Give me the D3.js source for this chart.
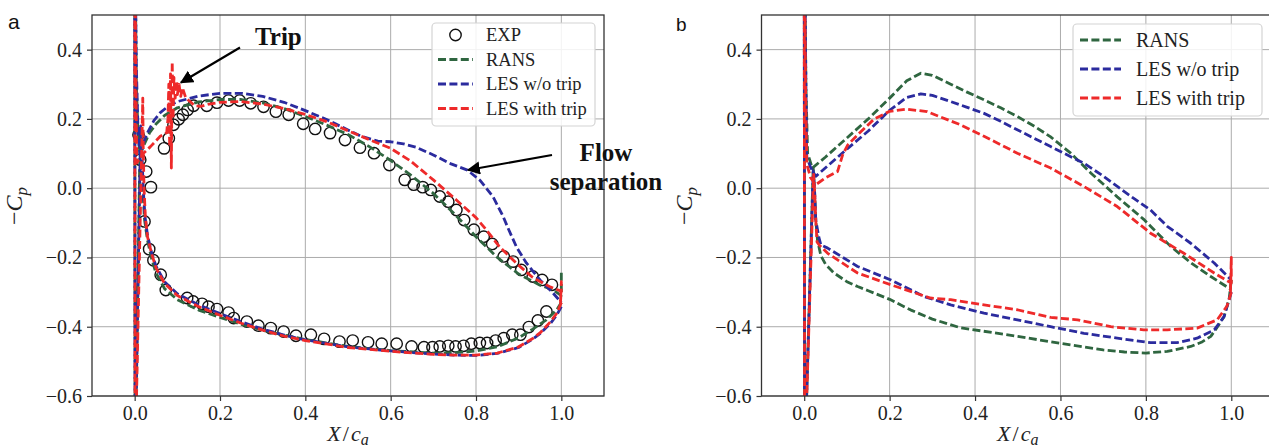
<!DOCTYPE html>
<html><head><meta charset="utf-8">
<script src="https://cdn.jsdelivr.net/npm/d3@7"></script>
<style>body{margin:0;background:#fff}svg{display:block}</style>
</head><body>
<svg id="chart" width="1269" height="448"></svg>
<script>
// ---- data: x/c_a and -Cp pairs ----
const xTicks = [0.0, 0.2, 0.4, 0.6, 0.8, 1.0];
const yTicks = [-0.6, -0.4, -0.2, 0.0, 0.2, 0.4];
const seriesNamesA = ["EXP", "RANS", "LES w/o trip", "LES with trip"];
const seriesNamesB = ["RANS", "LES w/o trip", "LES with trip"];

// experiment (panel a), suction side then pressure side
const expA = [
  [0.009,0.154],[0.013,0.082],[0.027,0.048],[0.038,0.003],[0.069,0.115],[0.080,0.144],[0.091,0.183],
  [0.103,0.199],[0.113,0.212],[0.124,0.226],[0.138,0.238],[0.169,0.238],[0.193,0.247],[0.220,0.253],
  [0.246,0.253],[0.272,0.245],[0.302,0.235],[0.331,0.221],[0.361,0.212],[0.395,0.186],[0.423,0.171],
  [0.458,0.159],[0.493,0.139],[0.528,0.117],[0.561,0.101],[0.597,0.067],[0.633,0.024],[0.654,0.010],
  [0.675,0.003],[0.694,-0.005],[0.715,-0.024],[0.735,-0.039],[0.754,-0.063],[0.772,-0.092],[0.795,-0.120],
  [0.818,-0.140],[0.838,-0.161],[0.865,-0.197],[0.887,-0.212],[0.906,-0.236],[0.933,-0.255],[0.955,-0.265],
  [0.978,-0.279],
  [0.023,-0.096],[0.034,-0.176],[0.044,-0.208],[0.061,-0.250],[0.073,-0.294],[0.123,-0.317],[0.137,-0.327],
  [0.158,-0.334],[0.173,-0.342],[0.193,-0.349],[0.220,-0.359],[0.232,-0.375],[0.263,-0.385],[0.290,-0.397],
  [0.319,-0.404],[0.349,-0.414],[0.378,-0.426],[0.413,-0.423],[0.444,-0.435],[0.480,-0.443],[0.511,-0.440],
  [0.547,-0.445],[0.579,-0.449],[0.614,-0.449],[0.649,-0.457],[0.678,-0.459],[0.698,-0.459],[0.715,-0.457],
  [0.735,-0.455],[0.752,-0.457],[0.771,-0.455],[0.789,-0.449],[0.809,-0.447],[0.826,-0.447],[0.846,-0.440],
  [0.865,-0.433],[0.885,-0.423],[0.904,-0.423],[0.924,-0.401],[0.945,-0.382],[0.965,-0.356]
];

// panel a simulations: pressure side TE -> LE -> suction side -> TE
const ransA = [
  [1.0,-0.33],[0.99,-0.35],[0.965,-0.38],[0.933,-0.407],[0.9,-0.432],[0.85,-0.458],[0.8,-0.47],[0.75,-0.475],
  [0.7,-0.476],[0.6,-0.469],[0.5,-0.457],[0.4,-0.437],[0.35,-0.424],[0.3,-0.41],[0.25,-0.393],[0.2,-0.373],
  [0.15,-0.352],[0.1,-0.322],[0.07,-0.29],[0.05,-0.245],[0.04,-0.205],[0.03,-0.15],[0.023,-0.09],[0.019,0.0],
  [0.016,0.1],[0.013,0.17],[0.001,-0.8],[0.0,0.8],[0.004,0.3],[0.008,0.15],[0.013,0.095],[0.02,0.12],
  [0.035,0.16],[0.05,0.185],[0.07,0.21],[0.1,0.232],[0.15,0.249],[0.2,0.256],[0.25,0.256],[0.3,0.246],
  [0.35,0.23],[0.4,0.207],[0.45,0.182],[0.5,0.155],[0.55,0.12],[0.6,0.08],[0.65,0.035],[0.7,-0.015],
  [0.75,-0.075],[0.8,-0.14],[0.85,-0.2],[0.9,-0.248],[0.95,-0.28],[0.98,-0.293],[1.0,-0.31],[1.0,-0.24]
];
const lesNoTripA = [
  [1.0,-0.342],[0.99,-0.365],[0.975,-0.39],[0.95,-0.42],[0.933,-0.436],[0.9,-0.46],[0.85,-0.477],[0.8,-0.483],
  [0.75,-0.482],[0.7,-0.479],[0.6,-0.47],[0.5,-0.458],[0.4,-0.438],[0.35,-0.424],[0.3,-0.407],[0.25,-0.386],
  [0.2,-0.362],[0.15,-0.337],[0.1,-0.305],[0.07,-0.27],[0.05,-0.225],[0.04,-0.188],[0.03,-0.135],[0.024,-0.08],
  [0.02,0.0],[0.017,0.1],[0.014,0.18],[0.001,-0.8],[0.0,0.8],[0.004,0.35],[0.008,0.16],[0.013,0.088],
  [0.02,0.13],[0.03,0.16],[0.045,0.195],[0.06,0.218],[0.08,0.238],[0.1,0.25],[0.15,0.266],[0.2,0.274],
  [0.25,0.274],[0.3,0.265],[0.35,0.248],[0.4,0.224],[0.45,0.198],[0.5,0.168],[0.53,0.15],[0.57,0.136],
  [0.6,0.134],[0.63,0.128],[0.66,0.118],[0.7,0.096],[0.74,0.071],[0.78,0.052],[0.81,0.022],[0.84,-0.025],
  [0.863,-0.08],[0.875,-0.115],[0.895,-0.17],[0.918,-0.216],[0.95,-0.265],[0.98,-0.302],[1.0,-0.33]
];
const lesTripA = [
  [1.0,-0.33],[0.99,-0.36],[0.975,-0.385],[0.95,-0.418],[0.933,-0.434],[0.9,-0.458],[0.85,-0.476],[0.8,-0.482],
  [0.75,-0.482],[0.7,-0.48],[0.6,-0.471],[0.5,-0.46],[0.4,-0.44],[0.35,-0.427],[0.3,-0.41],[0.25,-0.39],
  [0.2,-0.367],[0.15,-0.342],[0.1,-0.31],[0.07,-0.275],[0.05,-0.23],[0.04,-0.19],[0.03,-0.14],[0.025,-0.08],
  [0.022,0.0],[0.02,0.12],[0.019,0.26],[0.001,-0.8],[0.0,0.8],[0.003,0.3],[0.005,0.073],[0.02,0.1],
  [0.037,0.12],[0.06,0.15],[0.075,0.16],[0.078,0.2],[0.08,0.3],[0.082,0.12],[0.084,0.33],[0.086,0.058],
  [0.088,0.365],[0.09,0.2],[0.092,0.32],[0.095,0.26],[0.098,0.31],[0.1,0.27],[0.104,0.3],[0.108,0.265],
  [0.112,0.29],[0.12,0.26],[0.13,0.25],[0.14,0.238],[0.155,0.236],[0.175,0.243],[0.2,0.248],[0.25,0.25],
  [0.3,0.243],[0.35,0.23],[0.4,0.213],[0.45,0.192],[0.5,0.166],[0.55,0.14],[0.6,0.115],[0.645,0.08],
  [0.7,0.024],[0.754,-0.034],[0.8,-0.085],[0.824,-0.12],[0.855,-0.169],[0.894,-0.216],[0.933,-0.258],
  [0.972,-0.284],[1.0,-0.298],[1.0,-0.27],[0.998,-0.33],[1.0,-0.29]
];

// panel b simulations
const ransB = [
  [1.0,-0.265],[0.995,-0.32],[0.983,-0.371],[0.965,-0.405],[0.952,-0.428],[0.93,-0.445],[0.905,-0.457],
  [0.85,-0.471],[0.8,-0.476],[0.75,-0.473],[0.7,-0.467],[0.6,-0.448],[0.5,-0.428],[0.42,-0.413],[0.366,-0.403],
  [0.3,-0.378],[0.25,-0.352],[0.2,-0.321],[0.15,-0.296],[0.125,-0.284],[0.1,-0.27],[0.07,-0.245],[0.05,-0.22],
  [0.039,-0.195],[0.031,-0.149],[0.027,-0.09],[0.024,0.0],[0.021,0.06],[0.001,-0.8],[0.0,0.8],[0.004,0.3],
  [0.008,0.1],[0.019,0.058],[0.05,0.09],[0.1,0.145],[0.15,0.2],[0.2,0.26],[0.24,0.31],[0.273,0.332],
  [0.3,0.326],[0.343,0.3],[0.38,0.278],[0.421,0.255],[0.46,0.232],[0.5,0.206],[0.54,0.178],[0.577,0.148],
  [0.624,0.101],[0.671,0.044],[0.733,-0.025],[0.795,-0.09],[0.811,-0.11],[0.858,-0.168],[0.905,-0.215],
  [0.952,-0.255],[1.0,-0.293]
];
const lesNoTripB = [
  [1.0,-0.3],[0.983,-0.371],[0.96,-0.409],[0.92,-0.433],[0.873,-0.446],[0.811,-0.446],[0.733,-0.433],
  [0.655,-0.419],[0.577,-0.4],[0.499,-0.38],[0.421,-0.361],[0.343,-0.337],[0.281,-0.313],[0.203,-0.265],
  [0.125,-0.226],[0.055,-0.173],[0.039,-0.164],[0.034,-0.14],[0.027,-0.091],[0.024,0.0],[0.021,0.05],
  [0.001,-0.8],[0.0,0.8],[0.004,0.3],[0.006,0.09],[0.015,0.06],[0.027,0.034],[0.06,0.07],[0.102,0.115],
  [0.15,0.165],[0.2,0.225],[0.24,0.262],[0.273,0.272],[0.3,0.268],[0.343,0.25],[0.38,0.234],[0.421,0.216],
  [0.46,0.193],[0.5,0.168],[0.577,0.12],[0.655,0.072],[0.7,0.035],[0.733,0.005],[0.77,-0.028],[0.811,-0.063],
  [0.85,-0.11],[0.905,-0.159],[0.96,-0.216],[1.0,-0.265]
];
const lesTripB = [
  [1.0,-0.3],[0.99,-0.34],[0.967,-0.38],[0.92,-0.404],[0.85,-0.409],[0.795,-0.409],[0.718,-0.4],[0.64,-0.38],
  [0.577,-0.373],[0.499,-0.351],[0.421,-0.337],[0.343,-0.322],[0.295,-0.317],[0.203,-0.279],[0.125,-0.245],
  [0.055,-0.188],[0.035,-0.164],[0.03,-0.155],[0.027,-0.091],[0.024,0.0],[0.022,0.04],[0.001,-0.8],
  [0.0,0.8],[0.003,0.3],[0.006,0.07],[0.015,0.03],[0.027,0.01],[0.05,0.03],[0.078,0.048],[0.09,0.096],
  [0.102,0.125],[0.125,0.154],[0.164,0.2],[0.2,0.222],[0.24,0.228],[0.288,0.221],[0.343,0.194],[0.366,0.183],
  [0.421,0.15],[0.499,0.101],[0.577,0.058],[0.655,0.005],[0.733,-0.053],[0.811,-0.13],[0.889,-0.188],
  [0.96,-0.245],[1.0,-0.274],[1.0,-0.2],[0.998,-0.3]
];

// ---- styling ----
const colors = { rans: "#2f6640", noTrip: "#2b2b9e", trip: "#ee2a2a" };
const serif = "'Liberation Serif','Times New Roman',serif";
const sans = "'Liberation Sans',Arial,sans-serif";
const dash = "8,3.4";
const lineW = 2.8;
const svg = d3.select("#chart");

const defs = svg.append("defs");
defs.append("marker").attr("id", "arrowHead")
  .attr("viewBox", "0 0 10 10").attr("refX", 9).attr("refY", 5)
  .attr("markerWidth", 6).attr("markerHeight", 6).attr("markerUnits", "strokeWidth")
  .attr("orient", "auto")
  .append("path").attr("d", "M0,0 L10,5 L0,10 Z").attr("fill", "#000");

const fmt = d => (d < 0 ? "\u2212" : "") + Math.abs(d).toFixed(1);

function panel(id, xRange, lines, exp, legendNames, legendBox) {
  const x = d3.scaleLinear().domain([-0.1, 1.1]).range(xRange);
  const y = d3.scaleLinear().domain([-0.6, 0.5]).range([396, 15]);
  const g = svg.append("g");

  defs.append("clipPath").attr("id", "clip" + id)
    .append("rect").attr("x", xRange[0]).attr("y", 15)
    .attr("width", xRange[1] - xRange[0]).attr("height", 381);

  // grid
  g.append("g").selectAll("line").data(xTicks).join("line")
    .attr("x1", d => x(d)).attr("x2", d => x(d)).attr("y1", 15).attr("y2", 396)
    .attr("stroke", "#ababab").attr("stroke-width", 1);
  g.append("g").selectAll("line").data(yTicks).join("line")
    .attr("x1", xRange[0]).attr("x2", xRange[1]).attr("y1", d => y(d)).attr("y2", d => y(d))
    .attr("stroke", "#ababab").attr("stroke-width", 1);

  const plot = g.append("g").attr("clip-path", `url(#clip${id})`);
  if (exp) {
    plot.append("g").selectAll("circle").data(exp).join("circle")
      .attr("cx", d => x(d[0])).attr("cy", d => y(d[1])).attr("r", 5.7)
      .attr("fill", "none").attr("stroke", "#111").attr("stroke-width", 1.4);
  }
  const line = d3.line().x(d => x(d[0])).y(d => y(d[1]));
  lines.forEach(s => {
    plot.append("path").datum(s.data).attr("d", line)
      .attr("fill", "none").attr("stroke", s.color).attr("stroke-width", lineW)
      .attr("stroke-dasharray", dash).attr("stroke-linejoin", "round");
  });

  // axes
  const ax = g.append("g").attr("transform", "translate(0,396)")
    .call(d3.axisBottom(x).tickValues(xTicks).tickFormat(fmt).tickSize(5).tickPadding(5).tickSizeOuter(0));
  const ay = g.append("g").attr("transform", `translate(${xRange[0]},0)`)
    .call(d3.axisLeft(y).tickValues(yTicks).tickFormat(fmt).tickSize(5).tickPadding(5).tickSizeOuter(0));
  [ax, ay].forEach(a => {
    a.select(".domain").remove();
    a.selectAll(".tick line").attr("stroke", "#333").attr("stroke-width", 1.2);
    a.selectAll("text").attr("font-family", serif).attr("font-size", 20).attr("fill", "#222");
  });

  // frame
  g.append("rect").attr("x", xRange[0]).attr("y", 15)
    .attr("width", xRange[1] - xRange[0]).attr("height", 381)
    .attr("fill", "none").attr("stroke", "#333").attr("stroke-width", 1.3);

  // axis titles
  const cx = (xRange[0] + xRange[1]) / 2;
  const xl = g.append("text").attr("x", cx).attr("y", 441).attr("text-anchor", "middle")
    .attr("font-family", serif).attr("font-size", 22).attr("fill", "#222");
  xl.append("tspan").attr("font-style", "italic").text("X");
  xl.append("tspan").attr("dx", 2).text("/");
  xl.append("tspan").attr("dx", 2).attr("font-style", "italic").text("c");
  xl.append("tspan").attr("font-style", "italic").attr("font-size", 16).attr("dy", 4).text("a");

  const yl = g.append("text").attr("transform", `translate(${xRange[0] - 70},206) rotate(-90)`)
    .attr("text-anchor", "middle").attr("font-family", serif).attr("font-size", 24).attr("fill", "#222");
  yl.append("tspan").text("\u2212");
  yl.append("tspan").attr("font-style", "italic").text("C");
  yl.append("tspan").attr("font-style", "italic").attr("font-size", 17).attr("dy", 5).text("p");

  // legend
  const lb = legendBox;
  const lg = g.append("g");
  lg.append("rect").attr("x", lb.x).attr("y", lb.y).attr("width", lb.w).attr("height", lb.h)
    .attr("rx", 4).attr("fill", "#fff").attr("fill-opacity", 0.85)
    .attr("stroke", "#d4d4d4").attr("stroke-width", 1.2);
  const items = legendNames.map((name, i) => ({ name, i }));
  const row = lg.selectAll("g").data(items).join("g")
    .attr("transform", d => `translate(0,${lb.y0 + d.i * lb.step})`);
  row.each(function(d) {
    const r = d3.select(this);
    if (d.name === "EXP") {
      r.append("circle").attr("cx", (lb.l0 + lb.l1) / 2).attr("cy", 0).attr("r", 5.7)
        .attr("fill", "none").attr("stroke", "#111").attr("stroke-width", 1.4);
    } else {
      const c = d.name === "RANS" ? colors.rans : d.name === "LES w/o trip" ? colors.noTrip : colors.trip;
      r.append("line").attr("x1", lb.l0).attr("x2", lb.l1).attr("y1", 0).attr("y2", 0)
        .attr("stroke", c).attr("stroke-width", lineW).attr("stroke-dasharray", dash);
    }
    r.append("text").attr("x", lb.tx).attr("y", 0).attr("dy", "0.35em")
      .attr("font-family", serif).attr("font-size", lb.fs).attr("fill", "#222").text(d.name);
  });
  return { x, y };
}

panel("A", [92, 604],
  [{ data: ransA, color: colors.rans }, { data: lesNoTripA, color: colors.noTrip }, { data: lesTripA, color: colors.trip }],
  expA, seriesNamesA,
  { x: 432, y: 23, w: 163, h: 103, y0: 35, step: 24.5, l0: 438, l1: 473, tx: 486, fs: 18.5 });

panel("B", [761.5, 1274],
  [{ data: ransB, color: colors.rans }, { data: lesNoTripB, color: colors.noTrip }, { data: lesTripB, color: colors.trip }],
  null, seriesNamesB,
  { x: 1073, y: 24, w: 189, h: 92, y0: 40, step: 29, l0: 1080, l1: 1121, tx: 1136, fs: 20 });

// panel letters
svg.append("text").attr("x", 8).attr("y", 28.5).attr("font-family", sans).attr("font-size", 21).attr("fill", "#111").text("a");
svg.append("text").attr("x", 676).attr("y", 30.5).attr("font-family", sans).attr("font-size", 19).attr("fill", "#111").text("b");

// annotations
const ann = svg.append("g").attr("font-family", serif).attr("font-weight", "bold").attr("font-size", 25).attr("fill", "#111");
ann.append("text").attr("x", 255).attr("y", 45).text("Trip");
ann.append("text").attr("x", 606).attr("y", 161).attr("text-anchor", "middle").text("Flow");
ann.append("text").attr("x", 606).attr("y", 190).attr("text-anchor", "middle").text("separation");
svg.append("line").attr("x1", 240).attr("y1", 47.5).attr("x2", 181).attr("y2", 82.5)
  .attr("stroke", "#000").attr("stroke-width", 2.2).attr("marker-end", "url(#arrowHead)");
svg.append("line").attr("x1", 552).attr("y1", 155).attr("x2", 468).attr("y2", 170)
  .attr("stroke", "#000").attr("stroke-width", 2.2).attr("marker-end", "url(#arrowHead)");
</script>
</body></html>
